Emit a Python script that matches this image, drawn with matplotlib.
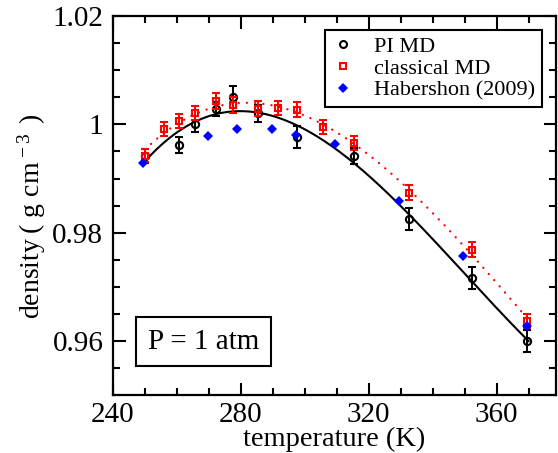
import numpy as np
import matplotlib
matplotlib.use("Agg")
import matplotlib.pyplot as plt
from matplotlib.ticker import MultipleLocator
from matplotlib.lines import Line2D

plt.rcParams['font.family'] = 'Liberation Serif'
plt.rcParams['mathtext.fontset'] = 'custom'
plt.rcParams['mathtext.rm'] = 'Liberation Serif'
plt.rcParams['mathtext.it'] = 'Liberation Serif:italic'

# PI MD
t_pi = [250, 260.6, 265.6, 272.3, 277.6, 285.4, 297.6, 315.3, 332.7, 352.4, 369.5]
d_pi = [0.9941, 0.9962, 1.0001, 1.0028, 1.0050, 1.0020, 0.9976, 0.9941, 0.9825, 0.9716, 0.9601]
e_pi = [0.0013, 0.0015, 0.0015, 0.0013, 0.0020, 0.0015, 0.0020, 0.0015, 0.0020, 0.0020, 0.0020]

# classical MD
t_cl = [250, 255.8, 260.6, 265.6, 272.3, 277.6, 285.4, 291.6, 297.6, 305.7, 315.3, 332.7, 352.4, 369.5]
d_cl = [0.9942, 0.9991, 1.0006, 1.0021, 1.0043, 1.0035, 1.0029, 1.0030, 1.0027, 0.9995, 0.9966, 0.9874, 0.9769, 0.9638]
e_cl = [0.0012, 0.0013, 0.0013, 0.0013, 0.0014, 0.0015, 0.0014, 0.0013, 0.0014, 0.0013, 0.0013, 0.0014, 0.0014, 0.0013]

# Habershon (2009)
t_hab = [249.4, 269.7, 278.8, 289.8, 297.4, 309.6, 329.6, 349.5, 369.5]
d_hab = [0.9928, 0.9978, 0.9991, 0.9991, 0.9981, 0.9963, 0.9859, 0.9757, 0.9629]

xticks = [240, 280, 320, 360]
yticks = [0.96, 0.98, 1.0, 1.02]
ytick_labels = ['0.96', '0.98', '1', '1.02']

fig = plt.figure(figsize=(5.58, 4.53), dpi=100)
ax = fig.add_axes([0.2025, 0.127, 0.794, 0.838])

# fitted curves through the simulation data
tt = np.linspace(250, 370, 200)
ax.plot(tt, np.polyval(np.polyfit(t_pi, d_pi, 3), tt), color='black', lw=1.5, zorder=2)
ax.plot(tt, np.polyval(np.polyfit(t_cl, d_cl, 3), tt), color='red', lw=1.6, ls=(0, (0.1, 3.6)),
        dash_capstyle='round', zorder=2)

ax.errorbar(t_pi, d_pi, yerr=e_pi, fmt='o', ms=5.2, mfc='none', mec='black', mew=1.5,
            ecolor='black', elinewidth=1.4, capsize=2.6, capthick=1.4, zorder=3)
ax.errorbar(t_cl, d_cl, yerr=e_cl, fmt='s', ms=4.8, mfc='none', mec='red', mew=1.5,
            ecolor='red', elinewidth=1.4, capsize=2.6, capthick=1.4, zorder=4)
ax.plot(t_hab, d_hab, 'D', ms=5, color='blue', mew=0, ls='none', zorder=5)

ax.set_xlim(240, 378.6)
ax.set_ylim(0.95, 1.02)
ax.set_xticks(xticks)
ax.set_yticks(yticks)
ax.set_yticklabels(ytick_labels)
ax.xaxis.set_minor_locator(MultipleLocator(10))
ax.yaxis.set_minor_locator(MultipleLocator(0.005))
ax.tick_params(which='both', direction='in', top=True, right=True, width=1.5, labelsize=21)
ax.tick_params(which='major', length=9, pad=7)
ax.tick_params(axis='x', which='major', pad=5)
ax.tick_params(which='minor', length=5)
for s in ax.spines.values():
    s.set_linewidth(1.6)

ax.set_xlabel('temperature (K)', fontsize=20.5, labelpad=-1)
ax.set_ylabel(r'density$\;$( g cm$^{\,-3}\;\,$)', fontsize=20)
ax.yaxis.set_label_coords(-0.146, 0.472)

handles = [
    Line2D([], [], marker='o', ms=5, mfc='none', mec='black', mew=1.5, ls='none'),
    Line2D([], [], marker='s', ms=4.6, mfc='none', mec='red', mew=1.5, ls='none'),
    Line2D([], [], marker='D', ms=5, color='blue', mew=0, ls='none'),
]
labels = ['PI MD', 'classical MD', 'Habershon (2009)']
leg = ax.legend(handles, labels, loc='upper right', bbox_to_anchor=(0.968, 0.963),
                borderaxespad=0, fontsize=16, frameon=True, fancybox=False,
                edgecolor='black', framealpha=1, handlelength=1.0, handletextpad=0.9,
                borderpad=0.3, labelspacing=0.05)
leg.get_frame().set_linewidth(1.5)

ax.text(0.204, 0.142, 'P = 1 atm', transform=ax.transAxes, fontsize=21, va='center', ha='center',
        bbox=dict(boxstyle='square,pad=0.4', fc='white', ec='black', lw=1.5))

fig.savefig('out.png', dpi=100)
